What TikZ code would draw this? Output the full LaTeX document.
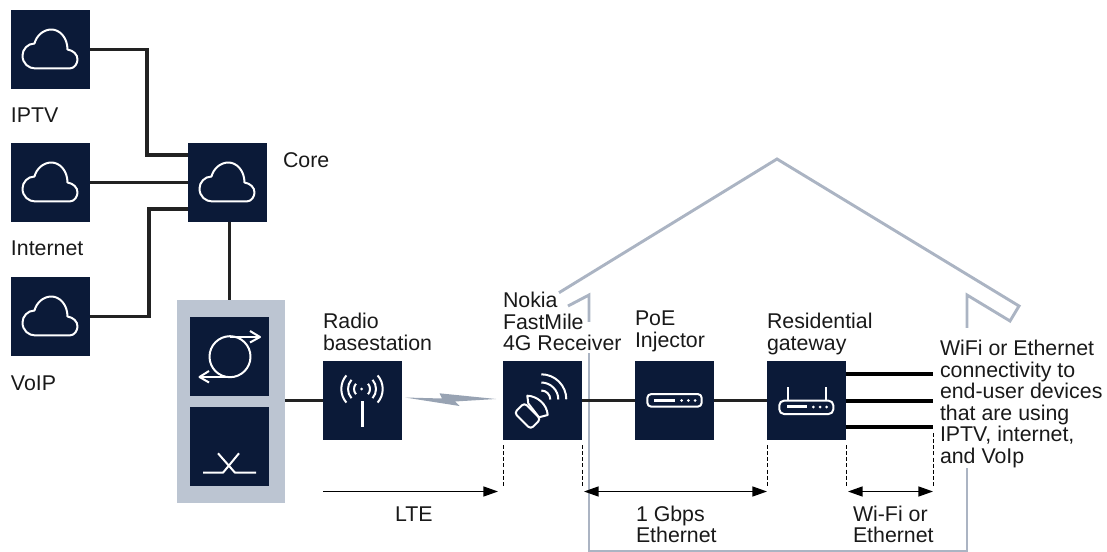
\documentclass[tikz,border=0pt]{standalone}
\usepackage{fontspec}
\setmainfont{Liberation Sans}
\usetikzlibrary{arrows.meta,calc}
\definecolor{navy}{HTML}{0B1A38}
\definecolor{housegray}{HTML}{ABB4C3}
\definecolor{rackgray}{HTML}{BCC5D2}
\definecolor{boltgray}{HTML}{98A3B3}
\definecolor{wire}{HTML}{222222}
\tikzset{
  x=0.75pt,y=-0.75pt,
  sq/.style={fill=navy,draw=none,minimum size=59.25pt,inner sep=0pt,outer sep=0pt},
  rackbox/.style={fill=rackgray,draw=none,minimum width=81pt,minimum height=152.25pt,inner sep=0pt,outer sep=0pt},
  lbl/.style={anchor=north west,inner sep=0pt,outer sep=0pt,align=left,text=black!90,font=\fontsize{16}{16.1}\selectfont},
  conn/.style={wire,line width=2.9pt,line join=miter},
  icon/.style={white,line width=1.5pt,line join=round},
  wall/.style={housegray,line width=2.2pt,line join=miter},
  dashln/.style={black,line width=0.75pt,dash pattern=on 3pt off 1.6pt},
  dim/.style={black,line width=1.1pt},
  cloudicon/.pic={
    \draw[icon] (-15,19) -- (19,19) .. controls (24,19) and (27,14) .. (27,10)
      .. controls (27,5) and (23,1) .. (17,0)
      .. controls (17,-12) and (9,-20) .. (1,-20)
      .. controls (-7,-20) and (-14,-14) .. (-16,-6)
      .. controls (-23,-6) and (-28,0) .. (-28,6)
      .. controls (-28,14) and (-22,19) .. (-15,19) -- cycle;
  }
}
\newcommand{\tl}{\rule{0pt}{12pt}}
\begin{document}
\begin{tikzpicture}
\useasboundingbox (0,0) rectangle (1107,552);
% house
\draw[wall] (559,292.7) -- (777,159) -- (1019,306) -- (1010,321) -- (967,295) -- (967,328);
\draw[wall] (967,468) -- (967,551) -- (589,551) -- (589,353);
\draw[wall] (589,322) -- (589,295) -- (568,306);
% nodes
\node[sq] (iptv) at (50.5,49.5) {};
\node[sq] (internet) at (50.5,182.5) {};
\node[sq] (voip) at (50.5,316.5) {};
\node[sq] (core) at (227.5,182.5) {};
\node[rackbox] (rack) at (231,401.5) {};
\node[sq] (circ) at (229.5,356.5) {};
\node[sq] (cross) at (229.5,446.5) {};
\node[sq] (radio) at (362.5,400.5) {};
\node[sq] (rx) at (542.5,400.5) {};
\node[sq] (poe) at (674.5,400.5) {};
\node[sq] (gw) at (806.5,400.5) {};
% connectors
\coordinate (j1) at (147,155);
\coordinate (j2) at (149,209);
\draw[conn] (iptv.east) -| (j1) -- (j1 -| core.west);
\draw[conn] (internet.east) -- (core.west);
\draw[conn] (voip.east) -| (j2) -- (j2 -| core.west);
\draw[conn] (core.south -| circ.north) -- (rack.north -| circ.north);
\draw[conn] (rack.east |- radio.west) -- (radio.west);
\draw[conn] (rx.east) -- (poe.west);
\draw[conn] (poe.east) -- (gw.west);
\coordinate (o1) at (933,374);
\coordinate (o2) at (933,401);
\coordinate (o3) at (933,427);
\draw[conn,black,line width=3pt] (gw.east |- o1) -- (o1);
\draw[conn,black,line width=3pt] (gw.east |- o2) -- (o2);
\draw[conn,black,line width=3pt] (gw.east |- o3) -- (o3);
% wireless bolt
\fill[boltgray] (405,397.5) -- (442,398.5) -- (439.5,393.3) -- (496,399) -- (455,401.5) -- (459.5,406) -- cycle;
% clouds
\pic at (iptv) {cloudicon};
\pic at (internet) {cloudicon};
\pic at (voip) {cloudicon};
\pic at (core) {cloudicon};
% circulator
\draw[icon] (230,356.7) circle (20.5);
\draw[icon] (230,337) -- (259,337);
\draw[icon] (250,331) -- (260,337) -- (250,342.5);
\draw[icon] (230,377) -- (200,377);
\draw[icon] (209,371) -- (199.5,377) -- (209,382.5);
% crossover
\draw[icon] (203,472.7) -- (223,472.7) -- (239,453.3);
\draw[icon] (218,453.3) -- (235,472.7) -- (256,472.7);
% radio
\draw[white,line width=2.2pt] (362.3,401) -- (362.3,427);
\fill[white] (361.7,389) circle (1.5);
\foreach \r in {8,14,20.7}{
  \draw[icon] (362,389) ++(-41:\r) arc[start angle=-41,end angle=41,radius=\r];
  \draw[icon] (362,389) ++(139:\r) arc[start angle=139,end angle=221,radius=\r];
}
% receiver
\draw[icon,rounded corners=2.5pt] (540.6,419.1) -- (530.6,429.1) -- (514.4,412.9) -- (524.4,402.9) -- cycle;
\draw[icon] (527.3,395.7) .. controls (537,396) and (547,404) .. (547.7,415) -- (539,417.3) -- (528.3,403.5) -- cycle;
\draw[icon] (541.3,374.3) arc[start angle=-90,end angle=0,radius=25];
\draw[icon] (541.3,382.5) arc[start angle=-90,end angle=0,radius=17];
\draw[icon] (541.3,390.5) arc[start angle=-90,end angle=0,radius=9];
% PoE
\draw[icon,rounded corners=3pt] (647.3,394) rectangle (701.7,406.7);
\fill[white] (654,399) rectangle (675,402);
\foreach \x in {681.7,688.3,695}{\fill[white] (\x,400.5) circle (1.5);}
% router
\draw[icon,rounded corners=3.5pt] (779.3,400.7) rectangle (833.3,414);
\draw[icon] (788.3,400.7) -- (788.3,386.7);
\draw[icon] (825.7,400.7) -- (825.7,386.7);
\fill[white] (787,405) rectangle (806.7,408.3);
\foreach \x in {813.3,820,826.7}{\fill[white] (\x,407) circle (1.5);}
% dimension lines
\coordinate (d1a) at (503,445); \coordinate (d1b) at (503,487);
\coordinate (d2a) at (582,445); \coordinate (d2b) at (582,487);
\coordinate (d3a) at (767,445); \coordinate (d3b) at (767,487);
\coordinate (d4a) at (846,445); \coordinate (d4b) at (846,487);
\coordinate (d5a) at (933,433); \coordinate (d5b) at (933,487);
\draw[dashln] (d1a) -- (d1b);
\draw[dashln] (d2a) -- (d2b);
\draw[dashln] (d3a) -- (d3b);
\draw[dashln] (d4a) -- (d4b);
\draw[dashln] (d5a) -- (d5b);
\coordinate (a1) at (323,491.5); \coordinate (a2) at (498,491.5);
\coordinate (a3) at (584,491.5); \coordinate (a4) at (767,491.5);
\coordinate (a5) at (848,491.5); \coordinate (a6) at (933,491.5);
\draw[dim,-{Stealth[length=11pt,width=7.5pt,inset=0pt]}] (a1) -- (a2);
\draw[dim,{Stealth[length=11pt,width=7.5pt,inset=0pt]}-{Stealth[length=11pt,width=7.5pt,inset=0pt]}] (a3) -- (a4);
\draw[dim,{Stealth[length=11pt,width=7.5pt,inset=0pt]}-{Stealth[length=11pt,width=7.5pt,inset=0pt]}] (a5) -- (a6);
% labels (y = first baseline - 16)
\node[lbl] (tiptv) at (11,107) {\tl IPTV};
\node[lbl] (tinternet) at (11,240) {\tl Internet};
\node[lbl] (tvoip) at (11,375) {\tl VoIP};
\node[lbl] (tcore) at (283,152) {\tl Core};
\node[lbl] (tradio) at (323,313) {\tl Radio\\basestation};
\node[lbl] (trx) at (503,292) {\tl Nokia\\FastMile\\4G Receiver};
\node[lbl] (tpoe) at (635,310) {\tl PoE\\Injector};
\node[lbl] (tgw) at (767,313) {\tl Residential\\gateway};
\node[lbl] (twifi) at (940,339.7) {\tl WiFi or Ethernet\\connectivity to\\end-user devices\\that are using\\IPTV, internet,\\and VoIp};
\node[lbl] (tlte) at (395,505) {\tl LTE};
\node[lbl] (tgbps) at (636,505) {\tl 1 Gbps\\Ethernet};
\node[lbl] (twf) at (853,505) {\tl Wi-Fi or\\Ethernet};
\end{tikzpicture}
\end{document}
